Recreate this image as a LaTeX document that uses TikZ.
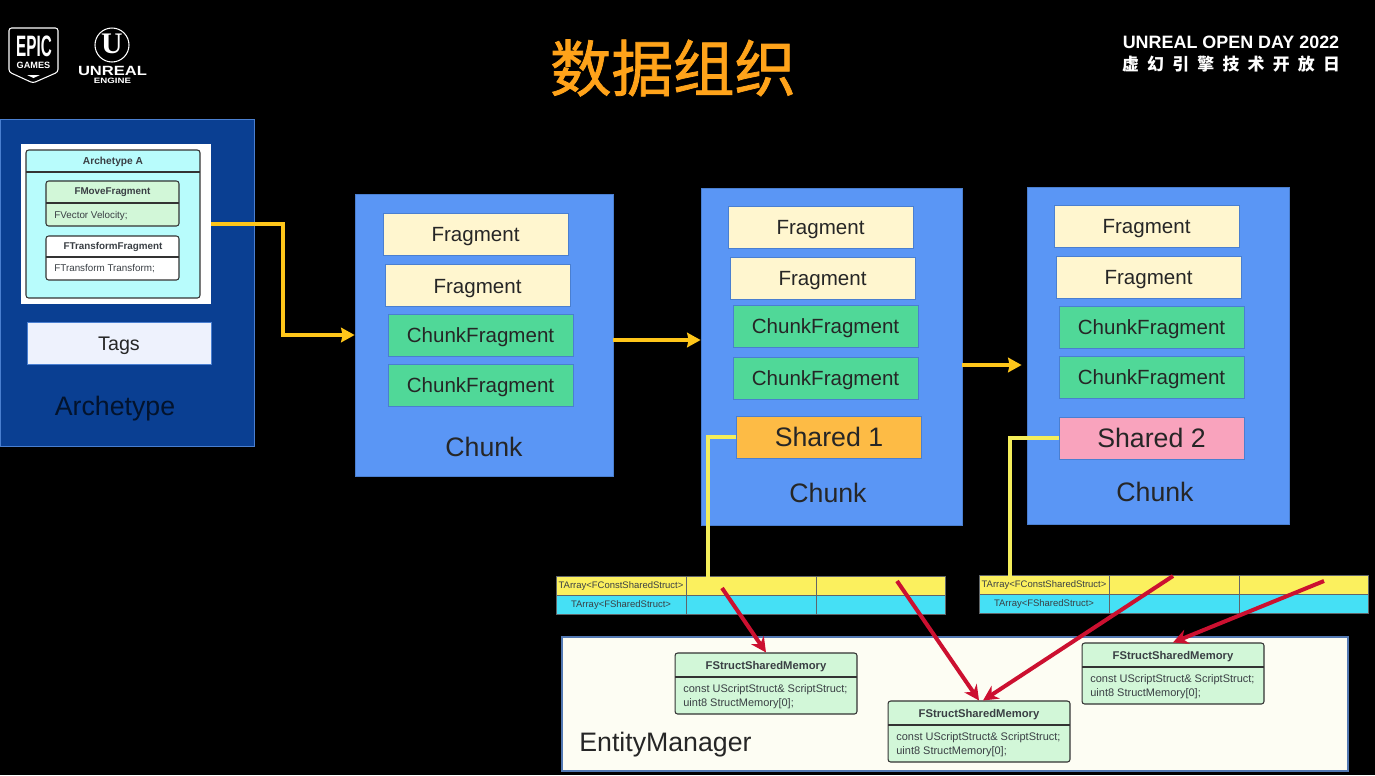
\documentclass[tikz,border=0pt]{standalone}
\usepackage{fontspec}
\setmainfont{Liberation Sans}
\newfontfamily\cjkfont{Noto Sans CJK SC}
\newfontfamily\titlefont[FakeBold=1.2]{Noto Sans CJK SC}
\newfontfamily\markfont{Liberation Serif}
\usepackage{tikz}
\usetikzlibrary{arrows.meta,positioning,calc}

\definecolor{archblue}{HTML}{0A3F92}
\definecolor{chunkblue}{HTML}{5A96F5}
\definecolor{edgeblue}{HTML}{4A7FD0}
\definecolor{fragcream}{HTML}{FFF6CF}
\definecolor{chunkgreen}{HTML}{50D898}
\definecolor{sharedorange}{HTML}{FDBB45}
\definecolor{sharedpink}{HTML}{F9A3BD}
\definecolor{linkyellow}{HTML}{FFC61A}
\definecolor{tapyellow}{HTML}{F4EE5A}
\definecolor{linkred}{HTML}{CC1030}
\definecolor{titleorange}{HTML}{FFA31A}
\definecolor{arrayyellow}{HTML}{FBF05E}
\definecolor{arraycyan}{HTML}{45E0F5}
\definecolor{memgreen}{HTML}{D2F7D8}
\definecolor{managercream}{HTML}{FDFDF3}
\definecolor{inkgray}{HTML}{3A3F44}
\definecolor{archcyan}{HTML}{B8FCFC}
\definecolor{tagswhite}{HTML}{EEF2FD}

\tikzset{
    panel/.style={draw=edgeblue, fill=#1, line width=0.45pt, inner sep=0pt, text=black!85},
    slot/.style={panel=#1, minimum width=3.7cm, minimum height=0.84cm, text height=0.35cm, text depth=0.05cm, font=\fontsize{11.7}{14}\selectfont},
    sharedslot/.style={slot=#1, text height=0.39cm, text depth=0.01cm, font=\fontsize{15.2}{18}\selectfont},
    biglabel/.style={text=black!85, font=\fontsize{15.2}{18}\selectfont},
    yellowlink/.style={linkyellow, line width=0.075cm, -{Stealth[length=0.27cm,width=0.29cm,inset=0.03cm]}},
    taplink/.style={tapyellow, line width=0.07cm},
    redlink/.style={-{Stealth[length=0.3cm,width=0.3cm]}, linkred, line width=0.08cm},
    cell/.style={draw=inkgray!80, fill=#1, line width=0.35pt, inner sep=0pt, minimum height=0.37cm, text=inkgray, font=\fontsize{5.4}{6}\selectfont},
    umlbox/.style={draw=black!80, rounded corners=1.5pt, line width=0.6pt, inner sep=0pt},
}

\begin{document}
\begin{tikzpicture}[x=0.02cm,y=-0.02cm]
    \useasboundingbox (0,0) rectangle (1375,775);
    \fill[black] (0,0) rectangle (1375,775);

    % Logos
    \draw[white, line width=0.6pt, rounded corners=1.5pt] (9,28) -- (58,28) -- (58,72) -- (33,83) -- (9,72) -- cycle;
    \node[white, inner sep=0pt, font=\bfseries\fontsize{14}{14}\selectfont] (epicText) at (34,46) {\scalebox{0.62}[1.2]{EPIC}};
    \node[white, inner sep=0pt, font=\bfseries\fontsize{5.2}{5.2}\selectfont] (gamesText) at (33.5,65) {GAMES};
    \fill[white] (27,75) -- (40,75) -- (33.5,78) -- cycle;
    \draw[white, line width=0.6pt] (112,45) circle (17);
    \node[white, font=\markfont\bfseries\fontsize{17}{17}\selectfont] (ueMark) at (112,44) {U};
    \node[white, inner sep=0pt, font=\bfseries\fontsize{7.6}{7.6}\selectfont] (unrealText) at (112.5,71) {\scalebox{1.24}[1]{UNREAL}};
    \node[white, inner sep=0pt, font=\bfseries\fontsize{4.4}{4.4}\selectfont] (engineText) at (112.5,81) {\scalebox{1.25}[1]{ENGINE}};

    % Title and event name
    \node[titleorange, font=\titlefont\fontsize{35}{36}\selectfont] (title) at (673,68) {数据组织};
    \node[white, font=\bfseries\fontsize{10.2}{11}\selectfont] (eventName) at (1231,42) {UNREAL OPEN DAY 2022};
    \node[white, inner sep=0pt, text width=4.36cm, font=\cjkfont\bfseries\fontsize{9.6}{11}\selectfont] (eventNameCn) at (1231,64)
        {虚\hfill 幻\hfill 引\hfill 擎\hfill 技\hfill 术\hfill 开\hfill 放\hfill 日};

    % Archetype
    \node[panel=archblue, minimum width=5.08cm, minimum height=6.54cm] (arch) at (127,282.5) {};
    \node[fill=white, inner sep=0pt, minimum width=3.8cm, minimum height=3.2cm] (archInner) at (116,224) {};
    \node[umlbox, fill=archcyan, minimum width=3.48cm, minimum height=2.96cm] (archBox) at (113,224) {};
    \draw[black!80, line width=0.6pt] (26,172) -- (200,172);
    \node[text=inkgray, font=\bfseries\fontsize{5.8}{7}\selectfont] (archName) at (113,161.5) {Archetype A};
    \node[umlbox, fill=memgreen, minimum width=2.66cm, minimum height=0.9cm] (moveBox) at (112.5,203.5) {};
    \draw[black!80, line width=0.6pt] (46,203) -- (179,203);
    \node[text=inkgray, font=\bfseries\fontsize{5.6}{7}\selectfont] (moveName) at (112.5,192.5) {FMoveFragment};
    \node[anchor=west, text=inkgray, font=\fontsize{5.6}{7}\selectfont, inner sep=0pt] (moveBody) at (54,215.5) {FVector Velocity;};
    \node[umlbox, fill=white, minimum width=2.66cm, minimum height=0.88cm] (transBox) at (112.5,258) {};
    \draw[black!80, line width=0.6pt] (46,257) -- (179,257);
    \node[text=inkgray, font=\bfseries\fontsize{5.6}{7}\selectfont] (transName) at (113,246.5) {FTransformFragment};
    \node[anchor=west, text=inkgray, font=\fontsize{5.6}{7}\selectfont, inner sep=0pt] (transBody) at (54,269) {FTransform Transform;};
    \node[slot=tagswhite, minimum width=3.68cm, font=\fontsize{11.2}{14}\selectfont] (tags) at (119,343) {Tags};
    \node[font=\fontsize{15.2}{18}\selectfont, text=black!70!archblue] (archLabel) at (115,409) {Archetype};

    % First chunk
    \node[panel=chunkblue, minimum width=5.16cm, minimum height=5.64cm] (chunkA) at (484,335) {};
    \node[slot=fragcream] (fragA1) at (475.5,234) {Fragment};
    \node[slot=fragcream] (fragA2) at (477.5,285.5) {Fragment};
    \node[slot=chunkgreen] (cfragA1) at (480.5,335) {ChunkFragment};
    \node[slot=chunkgreen] (cfragA2) at (480.5,385) {ChunkFragment};
    \node[biglabel] (chunkLabelA) at (484,447) {Chunk};

    % Second chunk
    \node[panel=chunkblue, minimum width=5.22cm, minimum height=6.74cm] (chunkB) at (831.5,356.5) {};
    \node[slot=fragcream] (fragB1) at (820.5,227) {Fragment};
    \node[slot=fragcream] (fragB2) at (822.5,278) {Fragment};
    \node[slot=chunkgreen] (cfragB1) at (825.5,326) {ChunkFragment};
    \node[slot=chunkgreen] (cfragB2) at (825.5,378) {ChunkFragment};
    \node[sharedslot=sharedorange] (sharedA) at (829,437) {Shared 1};
    \node[biglabel] (chunkLabelB) at (828,493) {Chunk};

    % Third chunk
    \node[panel=chunkblue, minimum width=5.24cm, minimum height=6.74cm] (chunkC) at (1158,355.5) {};
    \node[slot=fragcream] (fragC1) at (1146.5,226) {Fragment};
    \node[slot=fragcream] (fragC2) at (1148.5,277) {Fragment};
    \node[slot=chunkgreen] (cfragC1) at (1151.5,327) {ChunkFragment};
    \node[slot=chunkgreen] (cfragC2) at (1151.5,377) {ChunkFragment};
    \node[sharedslot=sharedpink] (sharedB) at (1151.5,438) {Shared 2};
    \node[biglabel] (chunkLabelC) at (1155,492) {Chunk};

    % Shared struct arrays
    \foreach \tbl/\tblx/\tbly in {A/556/586, B/979/585} {
        \node[cell=arrayyellow, minimum width=2.6cm] (constHead\tbl) at (\tblx+65,\tbly) {TArray<FConstSharedStruct>};
        \node[cell=arrayyellow, minimum width=2.6cm] (constOne\tbl) at (\tblx+195,\tbly) {};
        \node[cell=arrayyellow, minimum width=2.58cm] (constTwo\tbl) at (\tblx+324.5,\tbly) {};
        \node[cell=arraycyan, minimum width=2.6cm, minimum height=0.39cm] (sharedHead\tbl) at (\tblx+65,\tbly+19) {TArray<FSharedStruct>};
        \node[cell=arraycyan, minimum width=2.6cm, minimum height=0.39cm] (sharedOne\tbl) at (\tblx+195,\tbly+19) {};
        \node[cell=arraycyan, minimum width=2.58cm, minimum height=0.39cm] (sharedTwo\tbl) at (\tblx+324.5,\tbly+19) {};
    }

    % EntityManager
    \node[draw=archblue!70, fill=managercream, line width=0.7pt, inner sep=0pt, minimum width=15.72cm, minimum height=2.68cm] (manager) at (955,704) {};
    \node[biglabel, anchor=west, inner sep=0pt] (managerLabel) at (579,745) {EntityManager};
    \foreach \name/\cx/\cy in {memA/766/683.5, memB/979/731.5, memC/1173/673.5} {
        \node[umlbox, fill=memgreen, minimum width=3.64cm, minimum height=1.22cm] (\name) at (\cx,\cy) {};
        \draw[black!80, line width=0.6pt] (\cx-91,\cy-6.5) -- (\cx+91,\cy-6.5);
        \node[text=inkgray, font=\bfseries\fontsize{6.4}{8}\selectfont] (\name Title) at (\cx,\cy-17) {FStructSharedMemory};
        \node[anchor=west, align=left, inner sep=0pt, text=inkgray, font=\fontsize{6.25}{7.7}\selectfont] (\name Body) at (\cx-83,\cy+13)
            {const UScriptStruct\& ScriptStruct;\\uint8 StructMemory[0];};
    }

    % Yellow links
    \coordinate (archTurn) at (283,280);
    \coordinate (linkAB) at (650,340);
    \coordinate (linkBC) at (990,365);
    \coordinate (tapA) at (708,577);
    \coordinate (tapB) at (1010,576);
    \draw[yellowlink] (archInner.east) -| (archTurn) |- (chunkA.west);
    \draw[yellowlink] (chunkA.east |- linkAB) -- (chunkB.west |- linkAB);
    \draw[yellowlink, shorten >=0.1cm] (chunkB.east |- linkBC) -- (chunkC.west |- linkBC);
    \draw[taplink] (sharedA.west) -| (tapA);
    \draw[taplink] (sharedB.west) -| (tapB);

    % Red links
    \coordinate (slotA1) at (722,588);
    \coordinate (slotA2) at (897,581);
    \coordinate (slotB1) at (1173,576);
    \coordinate (slotB2) at (1324,581);
    \draw[redlink] (slotA1) -- (memA.north);
    \draw[redlink] (slotA2) -- (memB.north);
    \draw[redlink] (slotB1) -- ([xshift=0.08cm]memB.north);
    \draw[redlink] (slotB2) -- (memC.north);
\end{tikzpicture}
\end{document}
